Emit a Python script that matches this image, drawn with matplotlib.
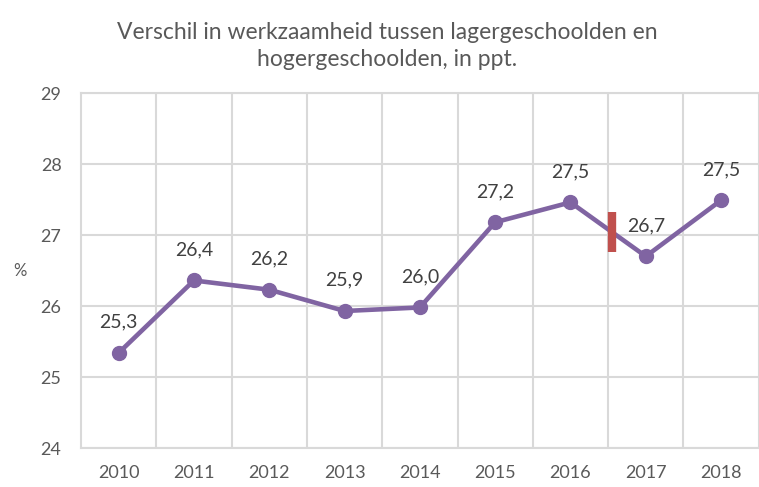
import numpy as np
import matplotlib.pyplot as plt

years = ["2010", "2011", "2012", "2013", "2014", "2015", "2016", "2017", "2018"]
gap = [25.34, 26.36, 26.23, 25.93, 25.98, 27.18, 27.46, 26.70, 27.49]
labels = ["25,3", "26,4", "26,2", "25,9", "26,0", "27,2", "27,5", "26,7", "27,5"]
# series break between 2016 and 2017
break_x = 6.55
break_y = [26.76, 27.32]

plt.rcParams["font.family"] = ["Lato", "DejaVu Sans"]
txt = "#595959"
grid = "#d9d9d9"

fig = plt.figure(figsize=(7.59, 4.87), dpi=100)
ax = fig.add_axes([0.1067, 0.080, 0.893, 0.729])

x = np.arange(len(years))
ax.plot(x, gap, color="#8064A2", linewidth=3.3, marker="o", markersize=10, zorder=3)
for xi, yi, lab in zip(x, gap, labels):
    ax.annotate(lab, (xi, yi), xytext=(0, 16), textcoords="offset points",
                ha="center", va="bottom", fontsize=14, color="#404040")

ax.plot([break_x, break_x], break_y, color="#C0504D", linewidth=6,
        solid_capstyle="butt", zorder=4)

ax.set_xlim(-0.5, len(years) - 0.5)
ax.set_ylim(24, 29)
ax.set_yticks(range(24, 30))
ax.set_xticks(x)
ax.set_xticklabels(years)
ax.set_xticks(np.arange(0.5, len(years) - 0.5), minor=True)
ax.grid(True, axis="y", which="major", color=grid, linewidth=1.5)
ax.grid(True, axis="x", which="minor", color=grid, linewidth=1.5)
ax.tick_params(which="both", length=0, labelsize=13, colors=txt)
ax.tick_params(axis="x", pad=12)
ax.tick_params(axis="y", pad=14)
for s in ax.spines.values():
    s.set_color(grid)
    s.set_linewidth(1.5)
ax.set_axisbelow(True)

ax.set_ylabel("%", rotation=0, fontsize=12, color=txt, va="center", ha="center")
ax.yaxis.set_label_coords(-0.09, 0.5)

fig.text(0.51, 0.905, "Verschil in werkzaamheid tussen lagergeschoolden en\nhogergeschoolden, in ppt.",
         ha="center", va="center", fontsize=16.5, color=txt, linespacing=1.35)

plt.savefig("out.png", dpi=100)
